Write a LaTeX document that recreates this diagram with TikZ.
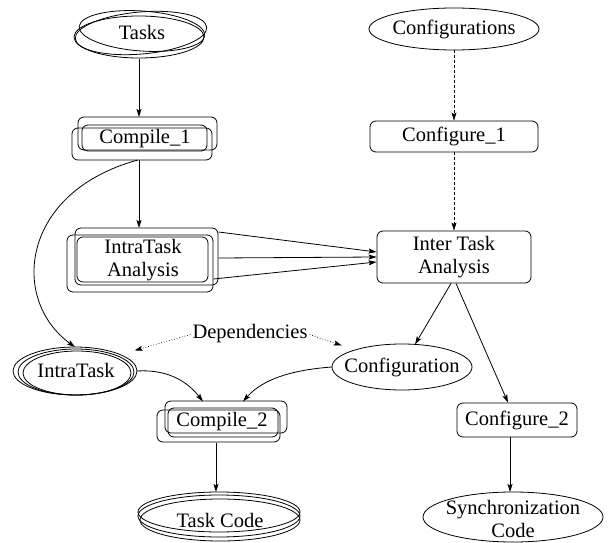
\documentclass[tikz,border=0pt]{standalone}
\usepackage{fontspec}
\setmainfont{Liberation Serif}
\usetikzlibrary{arrows.meta,shapes.geometric}
\begin{document}
\begin{tikzpicture}[x=1pt,y=-1pt,
  lbl/.style={font=\fontsize{20.5}{22.5}\selectfont, align=center, inner sep=0pt},
  tipstyle/.style={-{Stealth[length=8pt,width=5pt,inset=1.5pt]}},
  conn/.style={draw, line width=0.8pt, tipstyle},
  dashconn/.style={draw, line width=0.6pt, dash pattern=on 3pt off 2pt, tipstyle},
  dotconn/.style={draw, line width=0.7pt, dotted, tipstyle},
  frame/.style={draw, line width=0.8pt, rounded corners=6pt},
  oval/.style={draw, line width=0.8pt},
  ovalnode/.style={ellipse, draw, line width=0.8pt, inner sep=0pt, outer sep=0pt},
  ghost/.style={lbl, rectangle, draw=none, outer sep=0pt}]
\useasboundingbox (0,0) rectangle (614,543);

% ---- Tasks (stacked ovals)
\draw[oval, rotate around={-4:(142,31)}] (142,31) ellipse [x radius=63pt, y radius=20pt];
\draw[oval, rotate around={5:(141,33)}] (141,33) ellipse [x radius=66pt, y radius=21pt];
\node[ovalnode, minimum width=130pt, minimum height=42pt] (tasks) at (139,37) {};
\node[lbl] (tasks-t) at (142,32) {Tasks};

% ---- Compile_1 (stacked boxes)
\draw[frame] (78,117) rectangle (217,150);
\draw[frame] (72,128) rectangle (212,160);
\draw[frame] (82,125) rectangle (207,151);
\node[ghost, minimum width=145pt, minimum height=43pt] (c1) at (145,138.5) {Compile\_1};

% ---- IntraTask Analysis (stacked boxes)
\draw[frame] (75,228) rectangle (218,285);
\draw[frame] (67,235) rectangle (213,292);
\draw[frame] (77,237) rectangle (208,282);
\node[ghost, minimum width=151pt, minimum height=64pt] (ita) at (143,260) {IntraTask\\Analysis};

% ---- Configurations, Configure_1, Inter Task Analysis
\node[ovalnode, minimum width=170pt, minimum height=42pt] (cfgs) at (454,29) {};
\node[lbl] (cfgs-t) at (454,29) {Configurations};
\node[lbl, frame, minimum width=168pt, minimum height=31pt] (cfg1) at (454,136.5) {Configure\_1};
\node[lbl, frame, minimum width=154pt, minimum height=52pt] (inter) at (454,257) {Inter Task\\Analysis};

% ---- IntraTask (nested ovals)
\node[ovalnode, minimum width=124pt, minimum height=48pt] (it) at (75,371) {};
\draw[oval] (76,372) ellipse [x radius=58pt, y radius=23pt];
\draw[oval] (77,373) ellipse [x radius=54pt, y radius=22pt];
\node[lbl] (it-t) at (76,370) {IntraTask};

% ---- Dependencies
\node[lbl] (dep) at (250,334) {Dependencies};

% ---- Configuration
\node[ovalnode, minimum width=140pt, minimum height=46pt] (conf) at (402,367) {};
\node[lbl] (conf-t) at (402,367) {Configuration};

% ---- Compile_2 (stacked boxes)
\draw[frame] (165,401) rectangle (287,433);
\draw[frame] (157,410) rectangle (280,442);
\draw[frame] (168,408) rectangle (278,437);
\node[ghost, minimum width=131pt, minimum height=41pt] (cmp2) at (222,422) {Compile\_2};

% ---- Configure_2
\node[lbl, frame, minimum width=120pt, minimum height=34pt] (cfg2) at (517,420) {Configure\_2};

% ---- Task Code (stacked ovals)
\node[ovalnode, minimum width=162pt, minimum height=40pt] (tc) at (219,512) {};
\draw[oval] (219,516) ellipse [x radius=81pt, y radius=21pt];
\draw[oval] (220,520) ellipse [x radius=80pt, y radius=21pt];
\node[lbl] (tc-t) at (220,520) {Task Code};

% ---- Synchronization Code
\node[ovalnode, minimum width=180pt, minimum height=50pt] (sync) at (513,517) {};
\node[lbl] (sync-t) at (513,519) {Synchronization\\Code};

% ---- connectors
\draw[conn, shorten <=1pt] (tasks.south) -- (tasks.south |- c1.north);
\draw[conn] (tasks.south |- c1.south) -- (tasks.south |- ita.north);
\draw[conn] ([xshift=-7pt]c1.south) .. controls (20,192) and (10,300) .. (it.north);

\draw[conn] ([yshift=28pt]ita.east) -- ([yshift=5pt]inter.west);
\draw[conn] ([yshift=2pt]ita.east) -- (inter.west);
\draw[conn] ([shift={(-5pt,-19pt)}]ita.east) -- ([yshift=-5pt]inter.west);

\draw[dashconn] (cfgs.south) -- (cfg1.north);
\draw[dashconn] (cfg1.south) -- (inter.north);

\draw[conn] ([xshift=-3pt]inter.south) -- (conf.60);
\draw[conn] ([xshift=2pt]inter.south) -- ([xshift=-9pt]cfg2.north);
\draw[conn] ([xshift=-7pt]cfg2.south) -- ([xshift=-7pt]cfg2.south |- sync.north);

\draw[dotconn, shorten <=2pt, shorten >=15pt] (dep.west) -- (it.20);
\draw[dotconn, shorten <=2pt, shorten >=14pt] (dep.east) -- (conf.160);

\draw[conn] (it.east) .. controls (172,369) and (190,385) .. ([xshift=-19pt]cmp2.north);
\draw[conn] (conf.west) .. controls (290,370) and (262,380) .. ([xshift=21pt]cmp2.north);
\draw[conn] ([xshift=-6pt]cmp2.south) -- ([xshift=-6pt]cmp2.south |- tc.north);
\end{tikzpicture}
\end{document}
